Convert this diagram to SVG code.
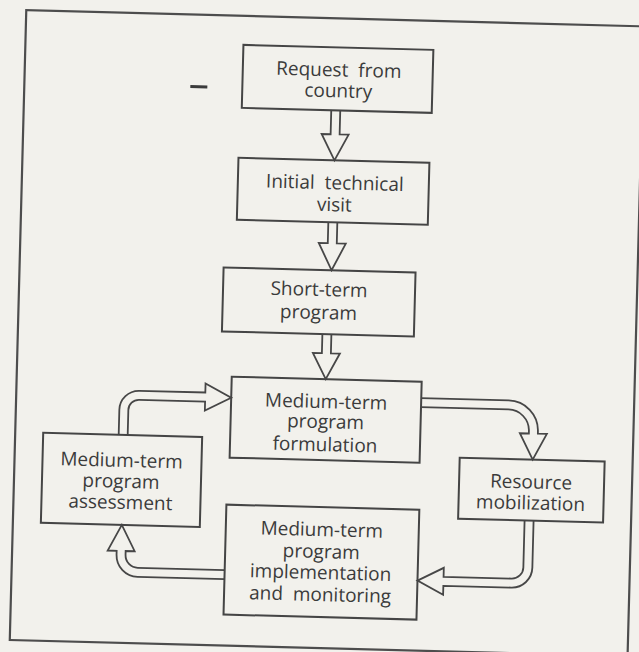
<svg xmlns="http://www.w3.org/2000/svg" width="639" height="652" viewBox="0 0 639 652">
  <style>
    .frame { fill: none; stroke: #4d4d4d; stroke-width: 2.2; }
    .box { fill: none; stroke: #454545; stroke-width: 2; }
    .arrow { fill: #f2f1ec; stroke: #474747; stroke-width: 1.8; stroke-linejoin: miter; }
    .lbl { font-family: "Open Sans", "Liberation Sans", sans-serif; font-size: 19px; word-spacing: 5px; fill: #3b3b3b; text-anchor: middle; }
  </style>
  <rect x="0" y="0" width="639" height="652" fill="#f2f1ec"/>
  <g transform="rotate(1.5 320 330)">
    <rect class="frame" x="18" y="18" width="618" height="630"/>
    <line x1="184" y1="90" x2="201" y2="90" stroke="#3b3b3b" stroke-width="3"/>

    <g id="connectors">
      <path class="arrow" d="M325.5,110 L325.5,134 L316.5,134 L330,160 L343.5,134 L334.5,134 L334.5,110"/>
      <path class="arrow" d="M325.5,222 L325.5,243 L316.5,243 L330,270 L343.5,243 L334.5,243 L334.5,222"/>
      <path class="arrow" d="M322.5,334 L322.5,353 L313.5,353 L327,379 L340.5,353 L331.5,353 L331.5,334"/>
      <path class="arrow" d="M121.5,440 L121.5,415 A19.5 19.5 0 0 1 141,395.5 L207,395.5 L207,386.5 L233,400 L207,413.5 L207,404.5 L141,404.5 A10.5 10.5 0 0 0 130.5,415 L130.5,440"/>
      <path class="arrow" d="M423,395.5 L510.5,395.5 A30 30 0 0 1 540.5,425.5 L540.5,428 L549.5,428 L536,454 L522.5,428 L531.5,428 L531.5,425.5 A21 21 0 0 0 510.5,404.5 L423,404.5"/>
      <path class="arrow" d="M538.5,515 L538.5,562 A20.5 20.5 0 0 1 518,582.5 L450,582.5 L450,591.5 L424,578 L450,564.5 L450,573.5 L518,573.5 A11.5 11.5 0 0 0 529.5,562 L529.5,515"/>
      <path class="arrow" d="M231,581.5 L144,581.5 A21.5 21.5 0 0 1 122.5,560 L122.5,556 L113.5,556 L127,530 L140.5,556 L131.5,556 L131.5,560 A12.5 12.5 0 0 0 144,572.5 L231,572.5"/>
    </g>

    <g id="request">
      <rect class="box" x="236" y="47" width="190" height="63"/>
      <text class="lbl" x="332" y="76">Request from</text>
      <text class="lbl" x="332" y="97">country</text>
    </g>
    <g id="initial-visit">
      <rect class="box" x="234" y="160" width="191" height="62"/>
      <text class="lbl" x="331" y="189">Initial technical</text>
      <text class="lbl" x="331" y="211">visit</text>
    </g>
    <g id="short-term">
      <rect class="box" x="222" y="270" width="192" height="64"/>
      <text class="lbl" x="318" y="296">Short-term</text>
      <text class="lbl" x="318" y="319">program</text>
    </g>
    <g id="formulation">
      <rect class="box" x="233" y="379" width="190" height="81"/>
      <text class="lbl" x="328" y="408">Medium-term</text>
      <text class="lbl" x="328" y="428">program</text>
      <text class="lbl" x="328" y="451">formulation</text>
    </g>
    <g id="assessment">
      <rect class="box" x="46" y="440" width="159" height="90"/>
      <text class="lbl" x="125" y="472">Medium-term</text>
      <text class="lbl" x="125" y="493">program</text>
      <text class="lbl" x="125" y="514">assessment</text>
    </g>
    <g id="resource">
      <rect class="box" x="463" y="454" width="145" height="61"/>
      <text class="lbl" x="535" y="483">Resource</text>
      <text class="lbl" x="535" y="504">mobilization</text>
    </g>
    <g id="implementation">
      <rect class="box" x="231" y="507" width="193" height="110"/>
      <text class="lbl" x="327" y="536">Medium-term</text>
      <text class="lbl" x="327" y="558">program</text>
      <text class="lbl" x="327" y="579">implementation</text>
      <text class="lbl" x="327" y="601">and monitoring</text>
    </g>
  </g>
</svg>
